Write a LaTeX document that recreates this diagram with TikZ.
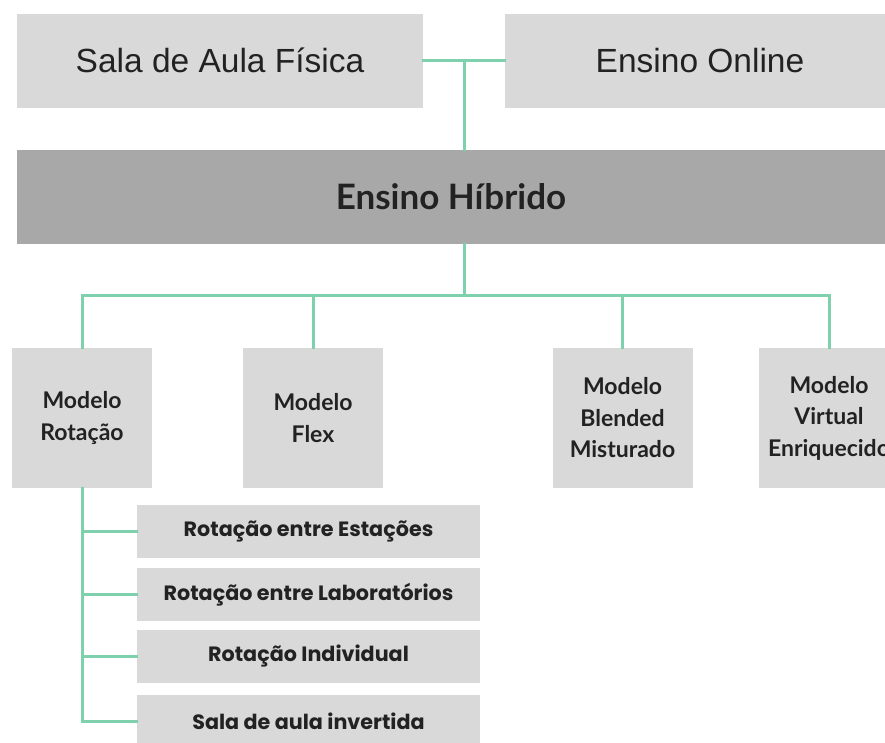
\documentclass[tikz,border=0pt]{standalone}
\usepackage{fontspec}
\setmainfont{Liberation Sans}
\newfontfamily\latofont{Lato}
\newfontfamily\popfont{Poppins}
\definecolor{boxgray}{HTML}{D9D9D9}
\definecolor{hibgray}{HTML}{A8A8A8}
\definecolor{mint}{HTML}{7FD1AE}
\definecolor{ink}{HTML}{222222}
\begin{document}
\begin{tikzpicture}[x=1pt,y=-1pt,
  box/.style={fill=boxgray, draw=none, inner sep=0pt, text=ink, align=center},
  topbox/.style={box, minimum height=94pt, font=\fontsize{33.5}{40}\selectfont},
  modelbox/.style={box, minimum width=140pt, minimum height=140pt, font=\latofont\bfseries\fontsize{23}{31.5}\selectfont},
  subbox/.style={box, minimum width=343pt, minimum height=53pt, font=\popfont\bfseries\fontsize{20.7}{24}\selectfont},
  link/.style={draw=mint, line width=3pt, line cap=rect}]
\clip (0,0) rectangle (885,742);
\fill[white] (0,0) rectangle (885,742);
% top row
\node[topbox, minimum width=406pt] (sala) at (220,60.5) {Sala de Aula Física};
\node[topbox, minimum width=390pt] (online) at (700,60.5) {Ensino Online};
\node[box, fill=hibgray, minimum width=868pt, minimum height=94pt, font=\latofont\bfseries\fontsize{35}{40}\selectfont] (hib) at (451,197) {Ensino Híbrido};
% models
\node[modelbox] (rot) at (82,418) {Modelo\\Rotação};
\node[modelbox] (flex) at (313,418) {Modelo\\Flex};
\node[modelbox] (blend) at (622.5,418) {Modelo\\Blended\\Misturado};
\node[modelbox] (virt) at (829,418) {Modelo\\Virtual\\Enriquecido};
% rotation sub-models
\node[subbox] (est) at (308.5,531) {Rotação entre Estações};
\node[subbox] (lab) at (308.5,594.5) {Rotação entre Laboratórios};
\node[subbox] (ind) at (308.5,656.5) {Rotação Individual};
\node[subbox] (inv) at (308.5,721.5) {Sala de aula invertida};
% connectors
\coordinate (j1) at (464,61);
\coordinate (j2) at (464,295);
\draw[link] (sala.east) -- (online.west);
\draw[link] (j1) -- (j1 |- hib.north);
\draw[link] (j2 |- hib.south) -- (j2);
\draw[link] (rot.north |- j2) -- (virt.north |- j2);
\draw[link] (rot.north |- j2) -- (rot.north);
\draw[link] (flex.north |- j2) -- (flex.north);
\draw[link] (blend.north |- j2) -- (blend.north);
\draw[link] (virt.north |- j2) -- (virt.north);
\draw[link] (rot.south) -- (rot.south |- inv.west);
\draw[link] (rot.south |- est.west) -- (est.west);
\draw[link] (rot.south |- lab.west) -- (lab.west);
\draw[link] (rot.south |- ind.west) -- (ind.west);
\draw[link] (rot.south |- inv.west) -- (inv.west);
\end{tikzpicture}
\end{document}
